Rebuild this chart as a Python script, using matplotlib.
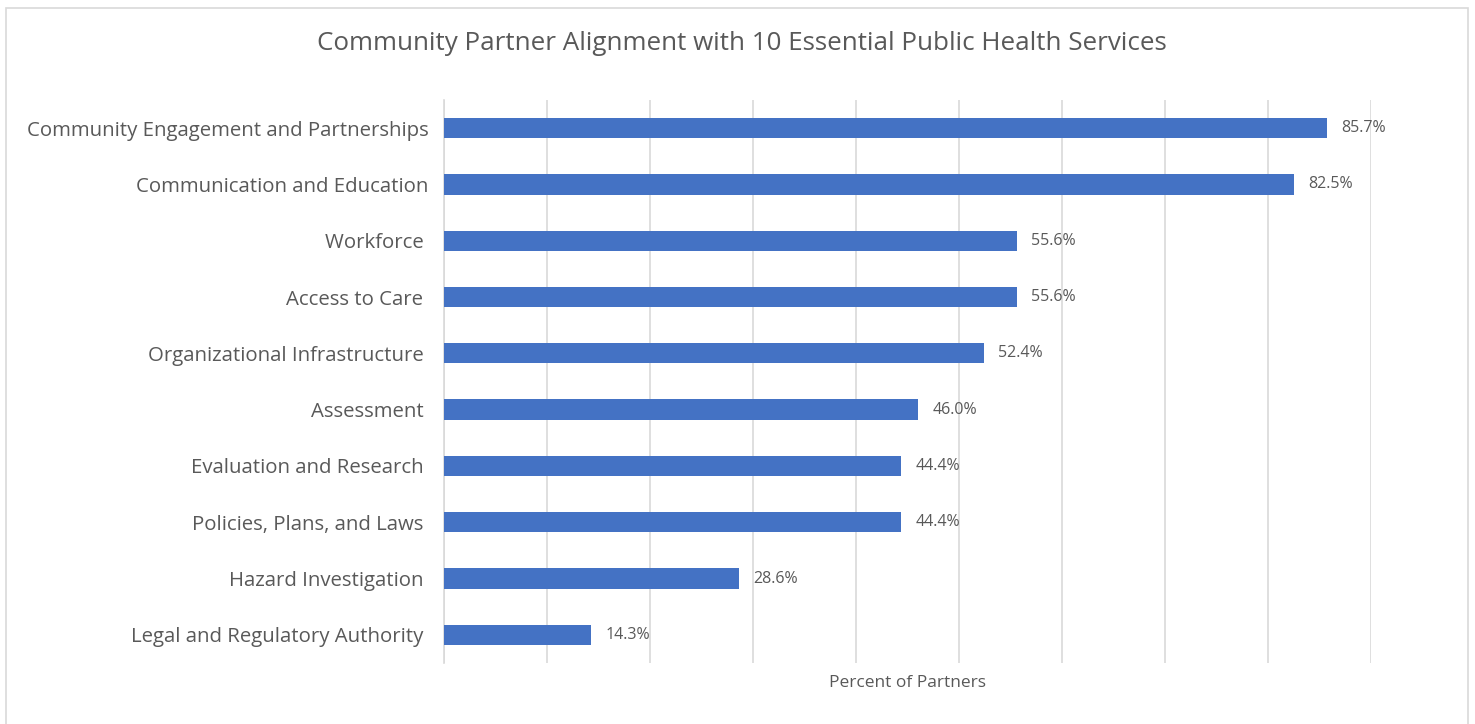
import matplotlib.pyplot as plt
from matplotlib.patches import Rectangle

# Share of community partners aligned with each essential service (%)
services = [
    "Community Engagement and Partnerships",
    "Communication and Education",
    "Workforce ",
    "Access to Care ",
    "Organizational Infrastructure ",
    "Assessment ",
    "Evaluation and Research ",
    "Policies, Plans, and Laws ",
    "Hazard Investigation ",
    "Legal and Regulatory Authority ",
]
percent = [85.7, 82.5, 55.6, 55.6, 52.4, 46.0, 44.4, 44.4, 28.6, 14.3]

bar_color = "#4472C4"
text_color = "#595959"
grid_color = "#D9D9D9"

plt.rcParams['font.family'] = ['Open Sans', 'DejaVu Sans']

fig = plt.figure(figsize=(14.75, 7.24), dpi=100)
ax = fig.add_axes([0.301, 0.0843, 0.6285, 0.7776])

ypos = list(range(len(services)))
ax.barh(ypos, percent, height=0.36, color=bar_color, zorder=3)

for y, v in zip(ypos, percent):
    ax.text(v + 1.4, y, f"{v:.1f}%", va='center', ha='left',
            fontsize=11.5, color=text_color, zorder=4)

ax.set_xlim(0, 90)
ax.set_ylim(len(services) - 0.5, -0.5)
ax.set_xticks(range(0, 91, 10))
ax.set_xticklabels([])
ax.tick_params(axis='x', length=0)
ax.set_yticks(ypos)
ax.set_yticklabels(services, fontsize=14.7, color=text_color)
ax.tick_params(axis='y', length=0, pad=11)
ax.grid(axis='x', color=grid_color, linewidth=1.2, zorder=0)

for side in ['top', 'right', 'bottom']:
    ax.spines[side].set_visible(False)
ax.spines['left'].set_color(grid_color)
ax.spines['left'].set_linewidth(1.2)

ax.set_xlabel("Percent of Partners", fontsize=12.5, color=text_color, labelpad=5)

fig.suptitle("Community Partner Alignment with 10 Essential Public Health Services",
             fontsize=18.7, color=text_color, x=0.503, y=0.94, va='center')

# thin frame round the chart area
fig.patches.append(Rectangle((6 / 1475, -0.01), 1462 / 1475, 1 - 8 / 724 + 0.01,
                             transform=fig.transFigure, fill=False,
                             edgecolor=grid_color, linewidth=1.2))

fig.savefig("out.png", dpi=100, facecolor='white')
